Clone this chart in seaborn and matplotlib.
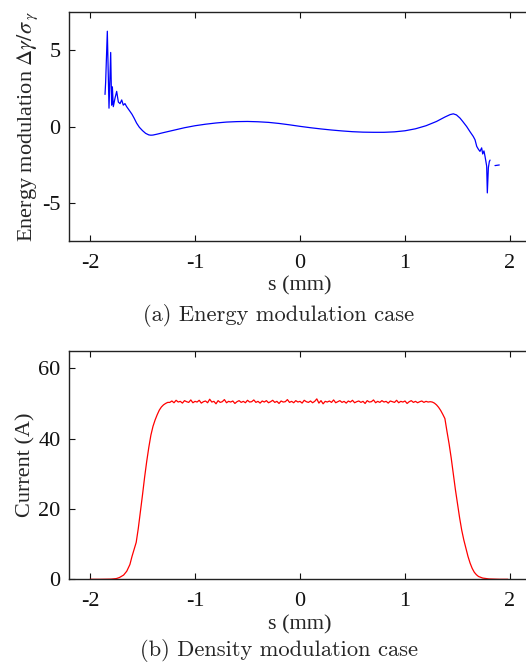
import numpy as np
import pandas as pd
import matplotlib
matplotlib.use("Agg")
import matplotlib.pyplot as plt
import seaborn as sns

# ---------------- data: energy modulation (top panel) ----------------
energy_s_main = [-1.857, -1.851, -1.835, -1.819, -1.803, -1.794, -1.787, -1.778,
                 -1.762, -1.746, -1.730, -1.714, -1.698, -1.683, -1.667, -1.651,
                 -1.62, -1.60, -1.58, -1.556, -1.53, -1.50, -1.47, -1.44, -1.42,
                 -1.40, -1.36, -1.30, -1.20, -1.10, -1.00, -0.90, -0.80, -0.70,
                 -0.60, -0.50, -0.40, -0.30, -0.20, -0.10, 0.00, 0.10, 0.20, 0.30,
                 0.40, 0.50, 0.60, 0.70, 0.80, 0.90, 1.00, 1.10, 1.20, 1.30, 1.38,
                 1.43, 1.46, 1.49, 1.524, 1.55, 1.587, 1.62, 1.65, 1.667, 1.683,
                 1.698, 1.714, 1.730, 1.740, 1.752, 1.762, 1.778, 1.784, 1.794,
                 1.803, 1.810]
energy_v_main = [2.1, 2.9, 6.24, 1.2, 4.85, 1.4, 2.6, 1.3,
                 1.85, 2.3, 1.6, 1.5, 1.74, 1.4, 1.5, 1.3,
                 1.00, 0.80, 0.55, 0.22, -0.05, -0.27, -0.45, -0.55, -0.57,
                 -0.56, -0.50, -0.40, -0.24, -0.08, 0.05, 0.15, 0.23, 0.29,
                 0.32, 0.33, 0.31, 0.27, 0.20, 0.11, 0.01, -0.08, -0.16, -0.23,
                 -0.29, -0.34, -0.37, -0.38, -0.38, -0.35, -0.28, -0.15, 0.05, 0.33, 0.62,
                 0.78, 0.83, 0.76, 0.55, 0.33, 0.0, -0.35, -0.65, -0.87, -1.3,
                 -1.48, -1.63, -1.4, -1.8, -1.6, -1.95, -2.6, -4.35, -2.7,
                 -2.3, -2.2]
energy_s_tail = [1.857, 1.898]
energy_v_tail = [-2.56, -2.52]

# ---------------- data: current profile (bottom panel) ----------------
current_s_rise = [-2.0, -1.9, -1.8, -1.75, -1.72, -1.68, -1.65, -1.62, -1.60, -1.58,
                  -1.56, -1.54, -1.52, -1.50, -1.48, -1.46, -1.44, -1.42, -1.40,
                  -1.38, -1.36, -1.34, -1.32, -1.30, -1.28, -1.26]
current_v_rise = [0.0, 0.0, 0.05, 0.2, 0.5, 1.2, 2.3, 4.2, 6.5, 8.5,
                  10.5, 14.5, 19.2, 24.0, 29.0, 33.5, 37.5, 41.0, 43.5,
                  45.3, 46.8, 48.1, 49.0, 49.6, 50.0, 50.3]
current_flat_start, current_flat_end = -1.24, 1.24
current_v_flat = [
    50.3, 50.7, 50.2, 50.9, 50.4, 50.6, 50.1, 50.8, 50.5, 50.3,
    51.0, 50.2, 50.6, 50.4, 50.9, 50.1, 50.5, 50.7, 50.2, 51.2,
    50.4, 50.6, 49.9, 50.8, 50.3, 50.5, 51.1, 50.2, 50.6, 50.4,
    50.7, 50.0, 50.5, 50.8, 50.3, 50.6, 50.2, 50.9, 50.4, 50.5,
    51.0, 50.3, 50.6, 50.1, 50.7, 50.4, 50.8, 50.2, 50.5, 50.9,
    50.3, 50.6, 50.0, 50.7, 50.4, 50.5, 51.1, 50.3, 50.6, 50.2,
    50.8, 50.4, 50.6, 50.1, 50.9, 50.5, 50.3, 50.7, 50.2, 50.6,
    51.3, 50.1, 50.8, 49.9, 50.6, 50.4, 50.7, 50.3, 51.0, 50.2,
    50.5, 50.8, 50.3, 50.6, 50.1, 50.7, 50.4, 50.9, 50.2, 50.5,
    50.7, 50.3, 50.6, 50.0, 50.8, 50.4, 50.5, 51.0, 50.2, 50.6,
    50.3, 50.8, 50.4, 50.6, 50.1, 50.7, 50.5, 50.3, 50.9, 50.2,
    50.6, 50.4, 50.7, 50.0, 50.5, 50.8, 50.3, 50.6, 50.2, 50.5,
    50.7, 50.3, 50.6, 50.4, 50.5]
current_s_fall = [1.26, 1.28, 1.30, 1.32, 1.34, 1.36, 1.38, 1.40, 1.42, 1.44, 1.46,
                  1.48, 1.50, 1.52, 1.54, 1.56, 1.58, 1.60, 1.62, 1.64, 1.66, 1.68,
                  1.70, 1.74, 1.80, 1.90, 1.98]
current_v_fall = [50.4, 50.1, 49.6, 48.9, 48.0, 46.9, 45.7, 42.0, 38.5, 34.5, 30.0,
                  25.5, 21.5, 17.5, 14.0, 11.2, 8.8, 6.5, 4.6, 3.1, 2.0, 1.3,
                  0.8, 0.35, 0.1, 0.0, 0.0]

x_ticks = [-2, -1, 0, 1, 2]
x_tick_labels = ["-2", "-1", "0", "1", "2"]
e_ticks = [-5, 0, 5]
e_tick_labels = ["-5", "0", "5"]
c_ticks = [0, 20, 40, 60]
c_tick_labels = ["0", "20", "40", "60"]

# ---------------- build tables ----------------
df_e = pd.DataFrame({
    "s": energy_s_main + energy_s_tail,
    "v": energy_v_main + energy_v_tail,
    "seg": [0] * len(energy_s_main) + [1] * len(energy_s_tail),
})
flat_s = list(np.linspace(current_flat_start, current_flat_end, len(current_v_flat)))
df_c = pd.DataFrame({
    "s": current_s_rise + flat_s + current_s_fall,
    "I": current_v_rise + current_v_flat + current_v_fall,
})

# ---------------- style ----------------
sns.set_style("ticks")
plt.rcParams["font.family"] = ["Liberation Serif", "DejaVu Serif"]
plt.rcParams["mathtext.fontset"] = "stix"
plt.rcParams["axes.unicode_minus"] = False

W, H = 526, 666
fig = plt.figure(figsize=(W / 100, H / 100), dpi=100)
ax_w = 462 / W
ax1 = fig.add_axes([69 / W, 1 - 241 / H, ax_w, (241 - 12) / H])
ax2 = fig.add_axes([69 / W, 1 - 579.3 / H, ax_w, (579.3 - 350.7) / H])

sns.lineplot(data=df_e, x="s", y="v", units="seg", estimator=None,
             color="#0000ff", lw=0.9, ax=ax1, sort=False)
sns.lineplot(data=df_c, x="s", y="I", estimator=None,
             color="#ff0000", lw=0.9, ax=ax2, sort=False)

fs = 16
for ax in (ax1, ax2):
    ax.set_xlim(-2.2, 2.2)
    ax.set_xticks(x_ticks)
    ax.set_xticklabels(x_tick_labels)
    ax.tick_params(direction="in", length=4, width=0.8, top=True, right=False,
                   labelsize=fs, colors="#111111")
    ax.tick_params(axis="x", pad=9)
    ax.tick_params(axis="y", pad=6)
    for sp in ax.spines.values():
        sp.set_color("#222222")
        sp.set_linewidth(1.0)
        sp.set_visible(True)
    ax.set_xlabel("s (mm)", fontsize=fs, labelpad=3)

ax1.set_ylim(-7.5, 7.5)
ax1.set_yticks(e_ticks)
ax1.set_yticklabels(e_tick_labels)
ax1.set_ylabel(r"Energy modulation $\Delta\gamma/\sigma_{\ \gamma}$", fontsize=fs)
ax1.yaxis.set_label_coords((40 - 69) / 462, 0.5)

ax2.set_ylim(0, 65)
ax2.set_yticks(c_ticks)
ax2.set_yticklabels(c_tick_labels)
ax2.set_ylabel("Current (A)", fontsize=fs)
ax2.yaxis.set_label_coords((35 - 69) / 462, 0.5)

fig.text(279 / W, 1 - 321 / H, "(a) Energy modulation case", ha="center", va="baseline",
         fontsize=16.2, family="cmr10")
fig.text(279 / W, 1 - 656 / H, "(b) Density modulation case", ha="center", va="baseline",
         fontsize=16.2, family="cmr10")

fig.savefig("out.png", dpi=100)
